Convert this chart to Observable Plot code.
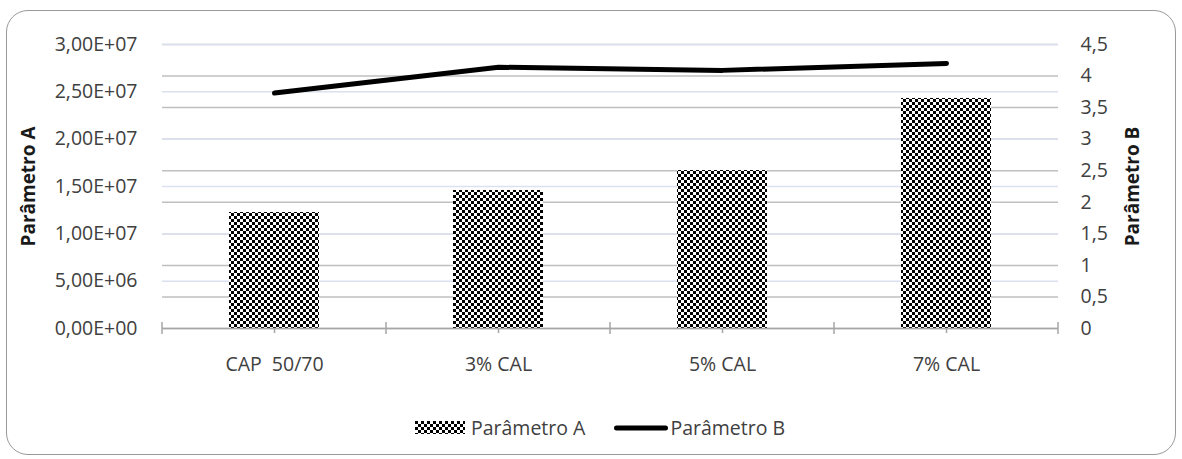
<!DOCTYPE html>
<html><head><meta charset="utf-8">
<script src="https://cdn.jsdelivr.net/npm/d3@7"></script>
<script src="https://cdn.jsdelivr.net/npm/@observablehq/plot@0.6"></script>
<style>
body{margin:0;background:#fff;font-family:"Open Sans",sans-serif;}
#wrap{position:relative;width:1182px;height:459px;overflow:hidden;background:#fff}
#frame{position:absolute;left:6px;top:10px;width:1170px;height:445px;border:1.6px solid #999;border-radius:22px;box-sizing:border-box}
#chart{position:absolute;left:0;top:0}
#legend{position:absolute;top:414px;left:415px;display:flex;align-items:center;font-size:19.5px;color:#404040;white-space:nowrap}
#legend .item{display:flex;align-items:center}
</style></head><body>
<div id="wrap"><div id="frame"></div><div id="chart"></div><div id="legend"></div></div>
<script>
const categories = ["CAP  50/70", "3% CAL", "5% CAL", "7% CAL"];
const parametroA = [1.225e7, 1.458e7, 1.669e7, 2.43e7];
const parametroB = [3.73, 4.14, 4.09, 4.20];
const leftTicks = [0, 5e6, 1e7, 1.5e7, 2e7, 2.5e7, 3e7];
const leftTickLabels = ["0,00E+00","5,00E+06","1,00E+07","1,50E+07","2,00E+07","2,50E+07","3,00E+07"];
const rightTicks = [0, 0.5, 1, 1.5, 2, 2.5, 3, 3.5, 4, 4.5];
const rightTickLabels = ["0","0,5","1","1,5","2","2,5","3","3,5","4","4,5"];
const seriesNames = ["Parâmetro A", "Parâmetro B"];
const leftMax = 3e7, rightMax = 4.5;
const k = leftMax / rightMax;

const data = categories.map((c, i) => ({cat: c, a: parametroA[i], b: parametroB[i]}));
const rightTicksScaled = rightTicks.map(v => v * k);

const boundaryTicks = (index, scales, values, dims) => {
  const g = d3.create("svg:g");
  const left = dims.marginLeft, right = dims.width - dims.marginRight;
  const step = (right - left) / categories.length;
  const y0 = scales.y(0);
  for (let i = 0; i <= categories.length; i++) {
    g.append("line").attr("x1", left + i*step).attr("x2", left + i*step)
      .attr("y1", y0 - 6).attr("y2", y0 + 6)
      .attr("stroke", "#a6a6a6").attr("stroke-width", 1.5);
  }
  return g.node();
};

const plot = Plot.plot({
  width: 1182, height: 385,
  marginLeft: 162, marginRight: 124, marginTop: 44, marginBottom: 57,
  style: {fontFamily: "Open Sans", fontSize: "19.5px", color: "#595959", background: "transparent", overflow: "visible"},
  x: {domain: categories, paddingInner: 0.598, paddingOuter: 0.299, label: null},
  y: {domain: [0, leftMax], label: null},
  marks: [
    Plot.gridY(rightTicksScaled, {stroke: "#bfbfbf", strokeOpacity: 1, strokeWidth: 1.5}),
    Plot.gridY(leftTicks, {stroke: "#d9e2ee", strokeOpacity: 1, strokeWidth: 1.5}),
    Plot.barY(data, {x: "cat", y: "a", fill: "url(#checker)"}),
    Plot.ruleY([0], {stroke: "#a6a6a6", strokeWidth: 1.5}),
    boundaryTicks,
    Plot.lineY(data, {x: "cat", y: d => d.b * k, stroke: "#000", strokeWidth: 5, strokeLinecap: "round", strokeLinejoin: "round"}),
    Plot.axisX({tickSize: 5, tickPadding: 24, stroke: "#a6a6a6", strokeWidth: 1.5, fill: "#404040",
      tickFormat: d => d.replace(/  /g, "\u00a0 "), label: null}),
    Plot.axisY(leftTicks, {anchor: "left", tickSize: 0, tickPadding: 25, fill: "#404040",
      tickFormat: d => leftTickLabels[leftTicks.indexOf(d)], label: null}),
    Plot.axisY(rightTicksScaled, {anchor: "right", tickSize: 0, tickPadding: 22, fill: "#404040",
      tickFormat: d => rightTickLabels[rightTicksScaled.findIndex(v => Math.abs(v - d) < 1)], label: null}),
    Plot.text([seriesNames[0]], {text: d => d, frameAnchor: "left", textAnchor: "middle", lineAnchor: "middle", rotate: -90, dx: -134, fontWeight: "bold", fontSize: 19, fill: "#1a1a1a"}),
    Plot.text([seriesNames[1]], {text: d => d, frameAnchor: "right", textAnchor: "middle", lineAnchor: "middle", rotate: -90, dx: 74, fontWeight: "bold", fontSize: 19, fill: "#1a1a1a"})
  ]
});

const svg = d3.select(plot);
const defs = svg.insert("defs", ":first-child");
const pat = defs.append("pattern").attr("id", "checker").attr("patternUnits", "userSpaceOnUse")
  .attr("width", 6).attr("height", 6);
pat.append("rect").attr("width", 6).attr("height", 6).attr("fill", "#fff");
pat.append("rect").attr("width", 3).attr("height", 3).attr("fill", "#000");
pat.append("rect").attr("x", 3).attr("y", 3).attr("width", 3).attr("height", 3).attr("fill", "#000");
document.getElementById("chart").appendChild(plot);

// Legend
const legend = d3.select("#legend");
const itemA = legend.append("div").attr("class", "item");
itemA.append("svg").attr("width", 50).attr("height", 13).style("margin-right", "6px")
  .append("rect").attr("width", 50).attr("height", 13).attr("fill", "url(#checker)");
itemA.append("span").text(seriesNames[0]);
const itemB = legend.append("div").attr("class", "item").style("margin-left", "29px");
itemB.append("svg").attr("width", 54).attr("height", 10).style("margin-right", "2px")
  .append("line").attr("x1", 2.5).attr("x2", 51.5).attr("y1", 5).attr("y2", 5)
  .attr("stroke", "#000").attr("stroke-width", 5).attr("stroke-linecap", "round");
itemB.append("span").text(seriesNames[1]);
</script>
</body></html>
